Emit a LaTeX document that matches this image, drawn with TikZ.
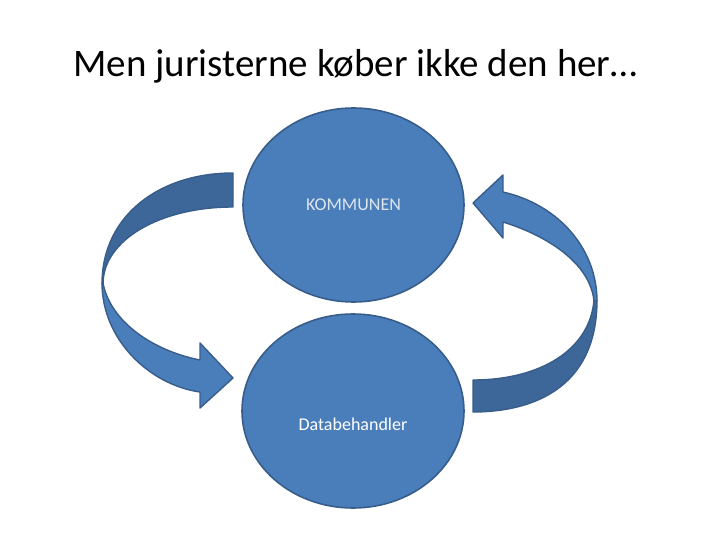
\documentclass[tikz,border=0pt]{standalone}
\usepackage{fontspec}
\setmainfont{Carlito}
\definecolor{fillblue}{HTML}{4A7EBB}
\definecolor{darkblue}{HTML}{3D6699}
\definecolor{edgeblue}{HTML}{385D8A}
\definecolor{lighttext}{HTML}{DCE4EE}
\tikzset{
  blob/.style={ellipse, draw=edgeblue, line width=1.6pt, fill=fillblue, inner sep=0pt},
  frontband/.style={fill=fillblue, draw=edgeblue, line width=1.4pt, line join=round},
  backband/.style={fill=darkblue, draw=edgeblue, line width=1.4pt, line join=round},
}
\usetikzlibrary{shapes.geometric}
\begin{document}
\begin{tikzpicture}[x=1pt,y=-1pt]
\useasboundingbox (0,0) rectangle (720,540);
\node[anchor=base, font=\fontsize{39}{44}\selectfont] (title) at (355.5,77) {Men juristerne køber ikke den her…};
\node[blob, minimum width=221pt, minimum height=194pt] (top) at (353.5,205) {};
\node[blob, minimum width=222pt, minimum height=194pt] (bot) at (353,411) {};
\node[text=lighttext, font=\fontsize{18}{20}\selectfont] (kom) at (top.center) {KOMMUNEN};
\node[text=white, font=\fontsize{18}{20}\selectfont] (dat) at ([yshift=-13pt]bot.center) {Databehandler};
% left arrow: back (upper) band
\draw[backband] (233,173) .. controls (160,173) and (102,215) .. (102,284)
  -- (103,284) .. controls (103,240) and (160,207) .. (233,207) -- cycle;
% left arrow: front (lower) band with head
\draw[frontband] (102,283) .. controls (102,340) and (150,385) .. (200,392)
  -- (200,408) -- (233,378) -- (200,343) -- (200,360)
  .. controls (150,350) and (110,320) .. (103,283) -- cycle;
% right arrow: back (lower) band
\draw[backband] (473,412) .. controls (530,412) and (597,390) .. (597,300)
  -- (594,300) .. controls (590,350) and (540,380) .. (473,380) -- cycle;
% right arrow: front (upper) band with head
\draw[frontband] (597,301) .. controls (597,250) and (560,205) .. (503,192)
  -- (503,175) -- (473,203) -- (503,238) -- (503,222)
  .. controls (545,235) and (590,262) .. (594,301) -- cycle;
\end{tikzpicture}
\end{document}
